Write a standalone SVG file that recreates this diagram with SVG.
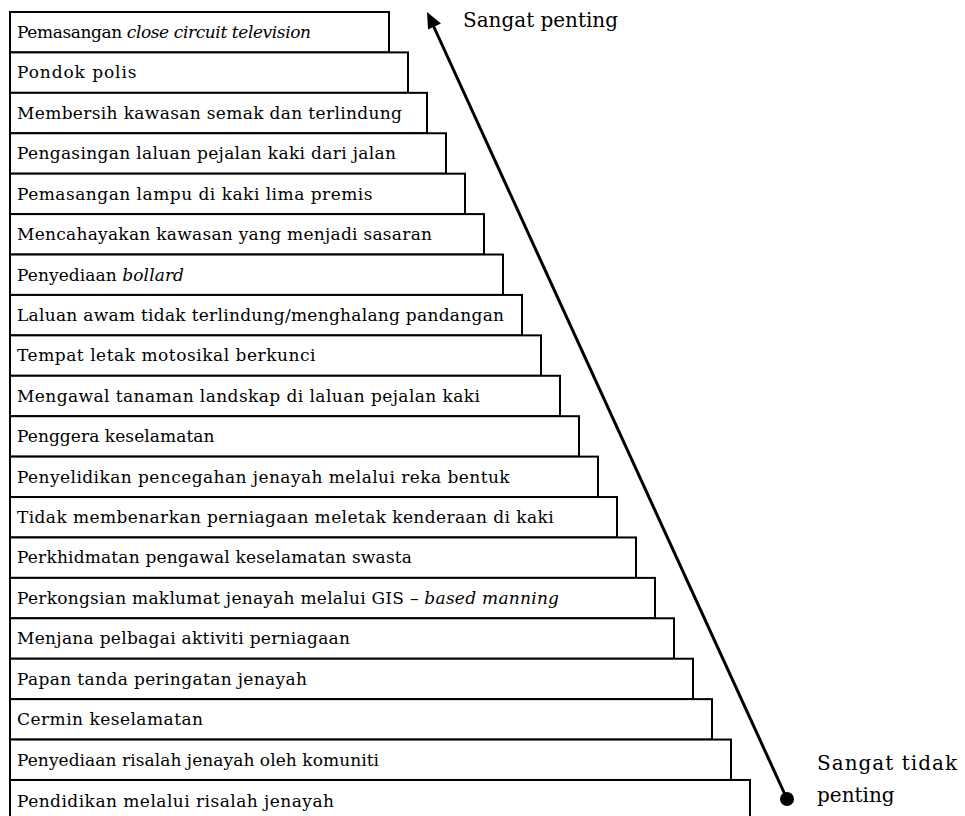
<svg xmlns="http://www.w3.org/2000/svg" width="965" height="816" viewBox="0 0 965 816">
<style>
.box rect{fill:#fff;stroke:#000;stroke-width:2}
.box text{font-family:"DejaVu Serif","Liberation Serif",serif;font-size:17px;fill:#000}
.it{font-style:italic}
.lbl{font-family:"DejaVu Serif","Liberation Serif",serif;font-size:20px;fill:#000}
</style>
<defs>
<marker id="ah" viewBox="0 0 10 10" refX="9" refY="5" markerWidth="6" markerHeight="5" orient="auto" markerUnits="strokeWidth">
<path d="M0,0 L10,5 L0,10 z" fill="#000"/>
</marker>
</defs>
<g id="n1" class="box"><rect x="10" y="12" width="379" height="40.42"/><text x="17" y="38" textLength="294" lengthAdjust="spacing">Pemasangan <tspan class="it">close circuit television</tspan></text></g>
<g id="n2" class="box"><rect x="10" y="52.42" width="398" height="40.42"/><text x="17" y="78.42" textLength="119.5" lengthAdjust="spacing">Pondok polis</text></g>
<g id="n3" class="box"><rect x="10" y="92.84" width="417" height="40.42"/><text x="17" y="118.84" textLength="385" lengthAdjust="spacing">Membersih kawasan semak dan terlindung</text></g>
<g id="n4" class="box"><rect x="10" y="133.26" width="436" height="40.42"/><text x="17" y="159.26" textLength="379" lengthAdjust="spacing">Pengasingan laluan pejalan kaki dari jalan</text></g>
<g id="n5" class="box"><rect x="10" y="173.68" width="455" height="40.42"/><text x="17" y="199.68" textLength="355.5" lengthAdjust="spacing">Pemasangan lampu di kaki lima premis</text></g>
<g id="n6" class="box"><rect x="10" y="214.1" width="474" height="40.42"/><text x="17" y="240.1" textLength="415" lengthAdjust="spacing">Mencahayakan kawasan yang menjadi sasaran</text></g>
<g id="n7" class="box"><rect x="10" y="254.52" width="493" height="40.42"/><text x="17" y="280.52" textLength="167" lengthAdjust="spacing">Penyediaan <tspan class="it">bollard</tspan></text></g>
<g id="n8" class="box"><rect x="10" y="294.94" width="512" height="40.42"/><text x="17" y="320.94" textLength="487" lengthAdjust="spacing">Laluan awam tidak terlindung/menghalang pandangan</text></g>
<g id="n9" class="box"><rect x="10" y="335.36" width="531" height="40.42"/><text x="17" y="361.36" textLength="298.5" lengthAdjust="spacing">Tempat letak motosikal berkunci</text></g>
<g id="n10" class="box"><rect x="10" y="375.78" width="550" height="40.42"/><text x="17" y="401.78" textLength="463" lengthAdjust="spacing">Mengawal tanaman landskap di laluan pejalan kaki</text></g>
<g id="n11" class="box"><rect x="10" y="416.2" width="569" height="40.42"/><text x="17" y="442.2" textLength="197.5" lengthAdjust="spacing">Penggera keselamatan</text></g>
<g id="n12" class="box"><rect x="10" y="456.62" width="588" height="40.42"/><text x="17" y="482.62" textLength="492.6" lengthAdjust="spacing">Penyelidikan pencegahan jenayah melalui reka bentuk</text></g>
<g id="n13" class="box"><rect x="10" y="497.04" width="607" height="40.42"/><text x="17" y="523.04" textLength="536.6" lengthAdjust="spacing">Tidak membenarkan perniagaan meletak kenderaan di kaki</text></g>
<g id="n14" class="box"><rect x="10" y="537.46" width="626" height="40.42"/><text x="17" y="563.46" textLength="395" lengthAdjust="spacing">Perkhidmatan pengawal keselamatan swasta</text></g>
<g id="n15" class="box"><rect x="10" y="577.88" width="645" height="40.42"/><text x="17" y="603.88" textLength="542" lengthAdjust="spacing">Perkongsian maklumat jenayah melalui GIS – <tspan class="it">based manning</tspan></text></g>
<g id="n16" class="box"><rect x="10" y="618.3" width="664" height="40.42"/><text x="17" y="644.3" textLength="333" lengthAdjust="spacing">Menjana pelbagai aktiviti perniagaan</text></g>
<g id="n17" class="box"><rect x="10" y="658.72" width="683" height="40.42"/><text x="17" y="684.72" textLength="290" lengthAdjust="spacing">Papan tanda peringatan jenayah</text></g>
<g id="n18" class="box"><rect x="10" y="699.14" width="702" height="40.42"/><text x="17" y="725.14" textLength="186" lengthAdjust="spacing">Cermin keselamatan</text></g>
<g id="n19" class="box"><rect x="10" y="739.56" width="721" height="40.42"/><text x="17" y="765.56" textLength="362" lengthAdjust="spacing">Penyediaan risalah jenayah oleh komuniti</text></g>
<g id="n20" class="box"><rect x="10" y="779.98" width="740" height="40.42"/><text x="17" y="806.98" textLength="317" lengthAdjust="spacing">Pendidikan melalui risalah jenayah</text></g>
<g id="connectors">
<line x1="787" y1="799" x2="433" y2="25" stroke="#000" stroke-width="3"/>
<polygon points="427,12 441,23.5 428,29.5" fill="#000"/>
<circle cx="787" cy="799" r="7" fill="#000"/>
</g>
<g id="labels">
<text class="lbl" x="463" y="27" textLength="155" lengthAdjust="spacing">Sangat penting</text>
<text class="lbl" x="817" y="770" textLength="140" lengthAdjust="spacing">Sangat tidak</text>
<text class="lbl" x="817" y="802">penting</text>
</g>
</svg>
